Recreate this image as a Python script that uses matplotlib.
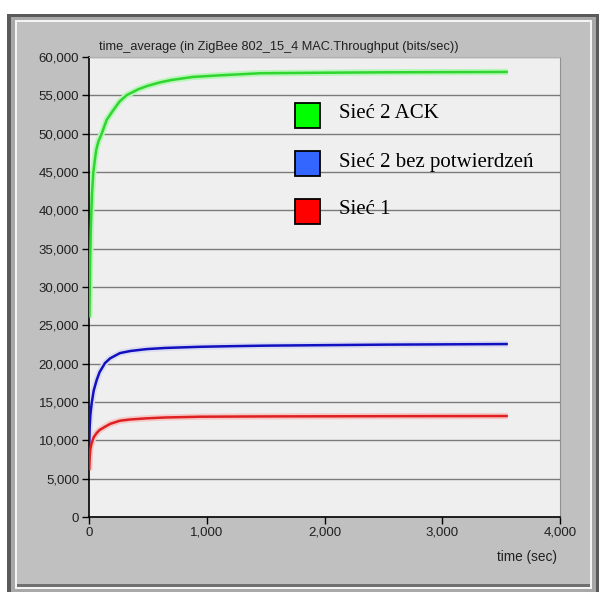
import matplotlib.pyplot as plt
from matplotlib.patches import Rectangle
from matplotlib.ticker import FuncFormatter

# (czas w s, throughput w bit/s)
t_ack = [3, 8, 15, 25, 37, 60, 80, 108, 150, 206, 260, 320, 420, 500, 603, 700, 883,
         1100, 1452, 2000, 2500, 3557]
ack = [26000, 32000, 37500, 42000, 45000, 47800, 49000, 50000, 51800, 53060, 54200,
       55020, 55800, 56250, 56690, 57000, 57400, 57600, 57880, 57950, 58000, 58050]

t_noack = [2, 6, 12, 23, 40, 65, 90, 136, 180, 263, 350, 490, 650, 942, 1200, 1500,
           2500, 3557]
noack = [9500, 11800, 13400, 14860, 16500, 17860, 18900, 20080, 20700, 21380, 21650,
         21900, 22050, 22200, 22280, 22350, 22480, 22560]

t_net1 = [2, 6, 12, 23, 40, 65, 90, 136, 180, 263, 350, 490, 650, 942, 1200, 1500,
          2500, 3557]
net1 = [6100, 7800, 8900, 9650, 10400, 10950, 11350, 11770, 12150, 12560, 12720,
        12870, 12980, 13080, 13100, 13120, 13150, 13170]

labels = ["Sieć 2 ACK", "Sieć 2 bez potwierdzeń", "Sieć 1"]
line_colors = ["#2fd62f", "#1010c0", "#e02020"]
glow_colors = ["#b8f5b8", "#dcdcf0", "#f5c8c8"]
box_colors = ["#00ff00", "#3366ff", "#ff0000"]

title = "time_average (in ZigBee 802_15_4 MAC.Throughput (bits/sec))"

W, H = 605, 592
fig = plt.figure(figsize=(W / 100, H / 100), dpi=100)
fig.patch.set_facecolor("white")

def px_rect(x0, y0, x1, y1, z=-10, **kw):
    # prostokat w pikselach (od gory)
    fig.patches.append(Rectangle((x0 / W, 1 - y1 / H), (x1 - x0) / W, (y1 - y0) / H,
                                 transform=fig.transFigure, figure=fig, zorder=z, **kw))

# ramka okna
px_rect(7, 14, 599, 592, facecolor="#5a5a5a", edgecolor="none")
px_rect(11, 17, 596, 592, facecolor="#a8a8a8", edgecolor="none")
px_rect(15, 20, 592, 589, facecolor="#f4f4f4", edgecolor="none")
px_rect(17, 22, 590, 586, facecolor="#c0c0c0", edgecolor="none")
px_rect(17, 584, 590, 587, facecolor="#707070", edgecolor="none")

ax = fig.add_axes([89 / W, 1 - 517 / H, (560 - 89) / W, (517 - 57) / H])
ax.set_facecolor("#efefef")

series = [(t_ack, ack), (t_noack, noack), (t_net1, net1)]
for (t, v), c, g in zip(series, line_colors, glow_colors):
    ax.plot(t, v, color=g, lw=4.5, solid_capstyle="butt", solid_joinstyle="round", zorder=2)
    ax.plot(t, v, color=c, lw=1.8, solid_capstyle="butt", solid_joinstyle="round", zorder=3)

ax.set_xlim(0, 4000)
ax.set_ylim(0, 60000)
ax.set_xticks([0, 1000, 2000, 3000, 4000])
ax.set_yticks(range(0, 60001, 5000))
fmt = FuncFormatter(lambda v, p: f"{int(v):,}")
ax.xaxis.set_major_formatter(fmt)
ax.yaxis.set_major_formatter(fmt)
ax.yaxis.grid(True, color="#7a7a7a", lw=1.0)
ax.set_axisbelow(True)
ax.tick_params(direction="out", length=5, width=1, colors="black", labelsize=9.5,
               labelcolor="#202020", pad=2)
for lab in ax.get_xticklabels() + ax.get_yticklabels():
    lab.set_fontfamily("Liberation Sans")
ax.spines["left"].set_color("black")
ax.spines["bottom"].set_color("black")
ax.spines["left"].set_linewidth(1.2)
ax.spines["bottom"].set_linewidth(1.2)
ax.spines["top"].set_color("#b0b0b0")
ax.spines["right"].set_color("#909090")

fig.text(99 / W, 1 - 47 / H, title, fontsize=9.2, family="Liberation Sans",
         ha="left", va="center", color="#202020")
fig.text(557 / W, 1 - 557 / H, "time (sec)", fontsize=9.8, family="Liberation Sans",
         ha="right", va="center", color="#202020")

# legenda wpisana w obszar wykresu
box_y = [103, 151, 199]
for y0, bc, lab in zip(box_y, box_colors, labels):
    px_rect(295, y0, 320, y0 + 25, z=5, facecolor=bc, edgecolor="black", lw=1.3)
    fig.text(339 / W, 1 - (y0 + 11) / H, lab, fontsize=15, family="Liberation Serif",
             ha="left", va="center", color="black", zorder=6)

fig.savefig("out.png", dpi=100)
